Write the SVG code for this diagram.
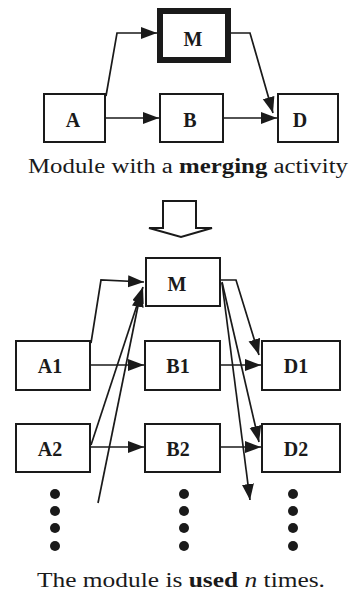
<svg xmlns="http://www.w3.org/2000/svg" width="360" height="595" viewBox="0 0 360 595">
  <style>
    .box { fill: #fff; stroke: #1a1a1a; stroke-width: 2; }
    .thick { fill: #fff; stroke: #1a1a1a; stroke-width: 6; }
    .lbl { font-weight: bold; font-size: 20px; fill: #1a1a1a; text-anchor: middle; }
    .cap { font-size: 20px; fill: #1a1a1a; }
    .edge { fill: none; stroke: #1a1a1a; stroke-width: 1.7; marker-end: url(#ah); }
    .dot { fill: #1a1a1a; }
  </style>
  <defs>
    <marker id="ah" markerUnits="userSpaceOnUse" markerWidth="17" markerHeight="13" refX="16" refY="6" orient="auto">
      <path d="M0,0 L16,6 L0,12 Z" fill="#1a1a1a"/>
    </marker>
  </defs>

  <g font-family="Liberation Serif, Times New Roman, serif">
  <!-- upper module -->
  <g id="connectors-top">
    <path class="edge" d="M106,96 L117,33 L157,33"/>
    <path class="edge" d="M231,33 L250,33 L273,113"/>
    <path class="edge" d="M106,118 L159,118"/>
    <path class="edge" d="M224,118 L277,118"/>
  </g>
  <g id="node-M-top">
    <rect class="thick" x="160" y="11" width="68" height="49"/>
    <text class="lbl" x="193" y="46">M</text>
  </g>
  <g id="node-A">
    <rect class="box" x="44" y="94" width="61" height="48"/>
    <text class="lbl" x="73" y="127">A</text>
  </g>
  <g id="node-B">
    <rect class="box" x="160" y="94" width="63" height="48"/>
    <text class="lbl" x="190" y="127">B</text>
  </g>
  <g id="node-D">
    <rect class="box" x="278" y="94" width="60" height="48"/>
    <text class="lbl" x="300" y="127">D</text>
  </g>
  <text class="cap" x="28" y="173" textLength="320" lengthAdjust="spacingAndGlyphs">Module with a <tspan font-weight="bold">merging</tspan> activity</text>

  <!-- transformation arrow -->
  <polygon id="transform" points="163,201 196,201 196,228 212,228 181,237 149,228 163,228" fill="#fff" stroke="#1a1a1a" stroke-width="2"/>

  <!-- lower module, repeated -->
  <g id="connectors-bottom">
    <path class="edge" d="M91,343 L101,280 L144,282"/>
    <path class="edge" d="M91,445 L143,287"/>
    <path class="edge" d="M98,503 L141,291"/>
    <path class="edge" d="M91,365 L144,365"/>
    <path class="edge" d="M221,365 L261,365"/>
    <path class="edge" d="M91,447 L144,447"/>
    <path class="edge" d="M221,447 L261,447"/>
    <path class="edge" d="M221,280 L236,280 L259,355"/>
    <path class="edge" d="M222,282 L259,442"/>
    <path class="edge" d="M222,283 L250,500"/>
  </g>
  <g id="node-M">
    <rect class="box" x="146" y="258" width="74" height="48"/>
    <text class="lbl" x="177" y="291">M</text>
  </g>
  <g id="node-A1">
    <rect class="box" x="16" y="341" width="74" height="49"/>
    <text class="lbl" x="50" y="373">A1</text>
  </g>
  <g id="node-B1">
    <rect class="box" x="145" y="341" width="75" height="49"/>
    <text class="lbl" x="178" y="373">B1</text>
  </g>
  <g id="node-D1">
    <rect class="box" x="262" y="341" width="78" height="49"/>
    <text class="lbl" x="296" y="373">D1</text>
  </g>
  <g id="node-A2">
    <rect class="box" x="16" y="424" width="74" height="48"/>
    <text class="lbl" x="50" y="456">A2</text>
  </g>
  <g id="node-B2">
    <rect class="box" x="145" y="424" width="75" height="48"/>
    <text class="lbl" x="178" y="456">B2</text>
  </g>
  <g id="node-D2">
    <rect class="box" x="262" y="424" width="78" height="48"/>
    <text class="lbl" x="296" y="456">D2</text>
  </g>

  <g id="ellipsis">
    <circle class="dot" cx="55" cy="494" r="5"/>
    <circle class="dot" cx="55" cy="511" r="5"/>
    <circle class="dot" cx="55" cy="528" r="5"/>
    <circle class="dot" cx="55" cy="546" r="5"/>
    <circle class="dot" cx="184" cy="494" r="5"/>
    <circle class="dot" cx="184" cy="511" r="5"/>
    <circle class="dot" cx="184" cy="528" r="5"/>
    <circle class="dot" cx="184" cy="546" r="5"/>
    <circle class="dot" cx="293" cy="494" r="5"/>
    <circle class="dot" cx="293" cy="511" r="5"/>
    <circle class="dot" cx="293" cy="528" r="5"/>
    <circle class="dot" cx="293" cy="546" r="5"/>
  </g>
  <text class="cap" x="37" y="587" textLength="288" lengthAdjust="spacingAndGlyphs">The module is <tspan font-weight="bold">used</tspan> <tspan font-style="italic">n</tspan> times.</text>
  </g>
</svg>
